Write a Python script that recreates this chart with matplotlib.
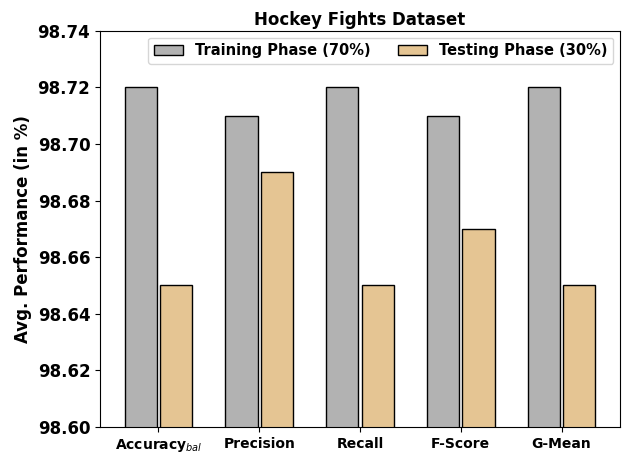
import numpy as np
import matplotlib
matplotlib.use("Agg")
import matplotlib.pyplot as plt

# Hockey Fights results, training vs testing split
metrics = ["Accuracy$_{bal}$", "Precision", "Recall", "F-Score", "G-Mean"]
train_vals = [98.72, 98.71, 98.72, 98.71, 98.72]
test_vals = [98.65, 98.69, 98.65, 98.67, 98.65]
yticks = [98.60, 98.62, 98.64, 98.66, 98.68, 98.70, 98.72, 98.74]

fig = plt.figure(figsize=(6.25, 4.55), dpi=100)
ax = fig.add_axes([0.16, 0.062, 0.832, 0.87])

x = np.arange(len(metrics))
w = 0.32
ax.bar(x - 0.175, train_vals, w, color="#b2b2b2", edgecolor="black", linewidth=1,
       label="Training Phase (70%)")
ax.bar(x + 0.175, test_vals, w, color="#e5c593", edgecolor="black", linewidth=1,
       label="Testing Phase (30%)")

ax.set_ylim(98.60, 98.74)
ax.set_xlim(-0.58, 4.58)
ax.set_yticks(yticks)
ax.set_yticklabels([f"{v:.2f}" for v in yticks], fontsize=12, fontweight="bold")
ax.set_xticks(x)
ax.set_xticklabels(metrics, fontsize=10, fontweight="bold")
ax.set_ylabel("Avg. Performance (in %)", fontsize=12, fontweight="bold")
ax.set_title("Hockey Fights Dataset", fontsize=12, fontweight="bold", pad=4)

leg = ax.legend(loc="upper right", ncol=2, prop={"weight": "bold", "size": 10.5},
                columnspacing=1.9, handlelength=2.0, handletextpad=0.8,
                borderaxespad=0.45)

fig.savefig("out.png", dpi=100)
